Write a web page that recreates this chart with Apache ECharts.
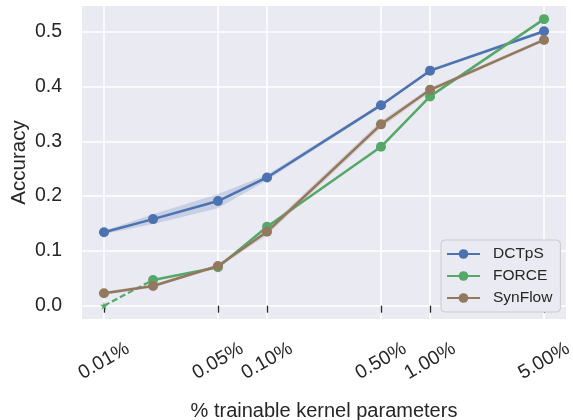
<!DOCTYPE html>
<html>
<head>
<meta charset="utf-8">
<script src="https://cdn.jsdelivr.net/npm/echarts@6/dist/echarts.min.js"></script>
<style>
html,body{margin:0;padding:0;background:#fff;}
#chart{width:573px;height:420px;}
</style>
</head>
<body>
<div id="chart"></div>
<script>
// ---- data ----
const xValues = [0.01, 0.02, 0.05, 0.1, 0.5, 1, 5];           // % trainable kernel parameters
const xTickValues = [0.01, 0.05, 0.1, 0.5, 1, 5];
const xTickLabels = ['0.01%', '0.05%', '0.10%', '0.50%', '1.00%', '5.00%'];
const yTickValues = [0, 0.1, 0.2, 0.3, 0.4, 0.5];
const yTickLabels = ['0.0', '0.1', '0.2', '0.3', '0.4', '0.5'];

const dctps     = [0.134, 0.158, 0.191, 0.234, 0.366, 0.429, 0.501];
const dctpsLow  = [0.131, 0.149, 0.178, 0.229, 0.363, 0.426, 0.498];
const dctpsHigh = [0.137, 0.167, 0.204, 0.239, 0.369, 0.432, 0.504];

const force     = [0.000, 0.047, 0.070, 0.144, 0.290, 0.382, 0.523];

const synflow     = [0.0226, 0.036, 0.0724, 0.135, 0.331, 0.394, 0.485];
const synflowLow  = [0.0196, 0.033, 0.0694, 0.129, 0.325, 0.390, 0.482];
const synflowHigh = [0.0256, 0.039, 0.0754, 0.141, 0.337, 0.398, 0.488];

const seriesNames = ['DCTpS', 'FORCE', 'SynFlow'];
const colors = ['#4C72B0', '#55A868', '#937860'];

// ---- helpers ----
const FONT = "'Liberation Sans', Arial, sans-serif";
const TEXT = '#262626';
const STAR = 'path://M50,0 L61,35 L98,35 L68,57 L79,91 L50,70 L21,91 L32,57 L2,35 L39,35 Z';

function pairs(xs, ys) { return xs.map((x, i) => [x, ys[i]]); }

function bandSeries(lows, highs, color) {
  return {
    type: 'custom',
    silent: true,
    z: 1,
    data: xValues.map((x, i) => [x, lows[i], highs[i]]),
    encode: { x: 0, y: [1, 2] },
    renderItem: function (params, api) {
      if (params.dataIndex !== 0) return;
      const top = xValues.map((x, i) => api.coord([x, highs[i]]));
      const bot = xValues.map((x, i) => api.coord([x, lows[i]])).reverse();
      return {
        type: 'polygon',
        shape: { points: top.concat(bot) },
        style: { fill: color, opacity: 0.22 }
      };
    }
  };
}

function lineSeries(name, data, color) {
  return {
    name: name,
    type: 'line',
    data: data,
    symbol: 'circle',
    symbolSize: 10,
    showSymbol: true,
    lineStyle: { color: color, width: 2.5 },
    itemStyle: { color: color },
    z: 3
  };
}

const chart = echarts.init(document.getElementById('chart'), null, { renderer: 'canvas' });

const option = {
  animation: false,
  backgroundColor: '#ffffff',
  textStyle: { fontFamily: FONT, color: TEXT },
  grid: {
    left: 82, right: 7, top: 6, bottom: 101,
    show: true, backgroundColor: '#EAEAF2', borderWidth: 0,
    containLabel: false,
    outerBoundsMode: 'none'
  },
  legend: {
    data: seriesNames,
    orient: 'vertical',
    left: 441, top: 240,
    padding: [6, 8, 6, 5],
    itemGap: 6,
    itemWidth: 33,
    itemHeight: 12,
    backgroundColor: '#EAEAF2',
    borderColor: '#cccccc',
    borderWidth: 1,
    borderRadius: 4,
    textStyle: { fontFamily: FONT, fontSize: 15.5, color: TEXT, padding: [0, 0, 0, 8] }
  },
  xAxis: {
    type: 'log',
    logBase: 10,
    min: 0.00733,
    max: 6.82,
    offset: 2,
    name: '% trainable kernel parameters',
    nameLocation: 'middle',
    nameGap: 80,
    nameMoveOverlap: false,
    nameTextStyle: { fontFamily: FONT, fontSize: 20, color: TEXT },
    axisLine: { show: false },
    axisTick: { show: true, length: 7, customValues: xTickValues, lineStyle: { color: TEXT, width: 1.3 } },
    minorTick: { show: false },
    minorSplitLine: { show: false },
    axisLabel: {
      customValues: xTickValues,
      formatter: function (v) {
        const i = xTickValues.findIndex(t => Math.abs(Math.log10(t) - Math.log10(v)) < 1e-6);
        return i >= 0 ? xTickLabels[i] : '';
      },
      rotate: 30,
      align: 'center',
      verticalAlign: 'middle',
      margin: 40,
      fontFamily: FONT, fontSize: 19.5, color: TEXT
    },
    splitLine: { show: true, lineStyle: { color: '#ffffff', width: 1.5 } }
  },
  yAxis: {
    type: 'value',
    min: -0.0243,
    max: 0.547,
    name: 'Accuracy',
    nameLocation: 'middle',
    nameRotate: 90,
    nameGap: 52,
    nameMoveOverlap: false,
    nameTextStyle: { fontFamily: FONT, fontSize: 20.5, color: TEXT },
    axisLine: { show: false },
    axisTick: { show: false, customValues: yTickValues },
    axisLabel: {
      customValues: yTickValues,
      formatter: function (v) {
        const i = yTickValues.findIndex(t => Math.abs(t - v) < 1e-6);
        return i >= 0 ? yTickLabels[i] : '';
      },
      margin: 20,
      fontFamily: FONT, fontSize: 19.5, color: TEXT
    },
    splitLine: { show: true, lineStyle: { color: '#ffffff', width: 1.5 } }
  },
  series: [
    bandSeries(dctpsLow, dctpsHigh, colors[0]),
    bandSeries(synflowLow, synflowHigh, colors[2]),
    lineSeries(seriesNames[0], pairs(xValues, dctps), colors[0]),
    // FORCE dashed first segment with star marker
    {
      name: 'FORCE-start',
      type: 'line',
      data: [
        { value: [xValues[0], force[0]], symbol: STAR, symbolSize: 8 },
        { value: [xValues[1], force[1]], symbol: 'none' }
      ],
      lineStyle: { color: colors[1], width: 2.2, type: [6, 3] },
      itemStyle: { color: colors[1] },
      z: 3
    },
    lineSeries(seriesNames[1], pairs(xValues.slice(1), force.slice(1)), colors[1]),
    lineSeries(seriesNames[2], pairs(xValues, synflow), colors[2])
  ]
};

chart.setOption(option);
</script>
</body>
</html>
